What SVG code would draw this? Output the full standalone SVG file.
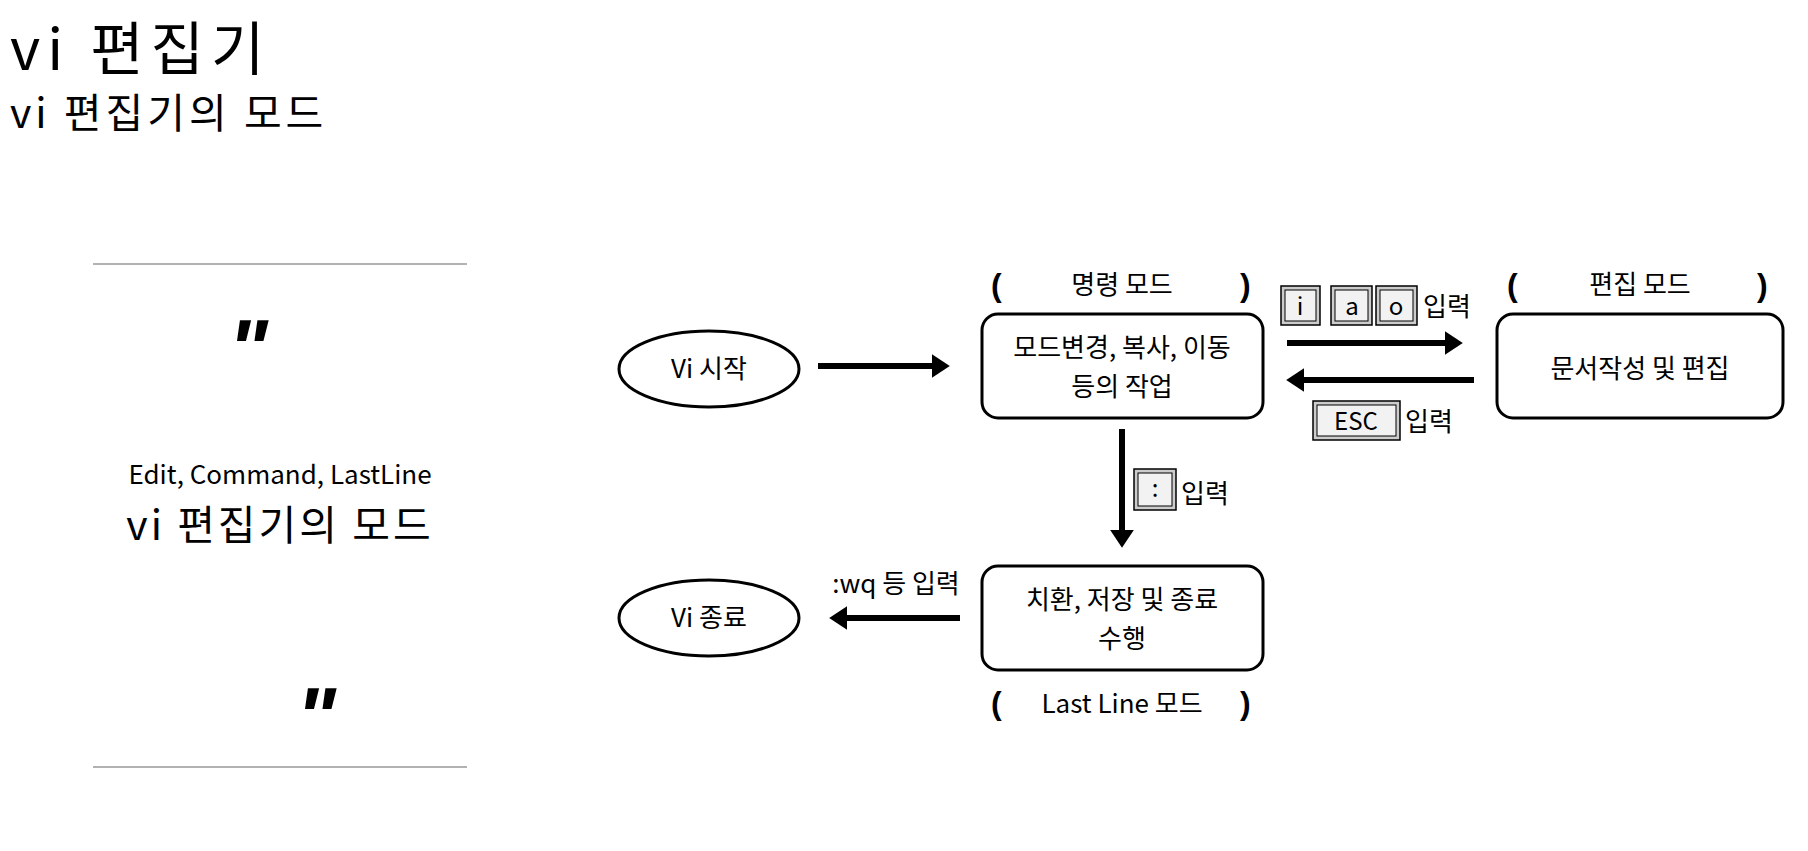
<svg xmlns="http://www.w3.org/2000/svg" width="1808" height="851" viewBox="0 0 1808 851">
<style>
text{font-family:"Noto Sans CJK KR","Noto Sans",sans-serif;fill:#000}
.t{font-size:26px;text-anchor:middle}
.box{fill:#fff;stroke:#000;stroke-width:3}
.br{font-size:32px;font-family:"Liberation Sans",sans-serif;font-weight:bold}
.key{fill:#ccc;stroke:#000;stroke-width:1.5}
.keyi{fill:#f2f2f2;stroke:#000;stroke-width:1}
.ln{stroke:#000;stroke-width:6;fill:none;marker-end:url(#ah)}
</style>
<defs>
<marker id="ah" markerWidth="4" markerHeight="4" refX="2.2" refY="2" orient="auto" markerUnits="strokeWidth"><path d="M0,0 L3,2 L0,4 z" fill="#000"/></marker>
</defs>
<rect width="1808" height="851" fill="#fff"/>
<g id="title">
<text x="10" y="70" style="font-size:58px;letter-spacing:7px">vi 편집기</text>
<text x="10" y="128" style="font-size:41px;letter-spacing:4px">vi 편집기의 모드</text>
</g>
<g id="quote">
<line x1="93" y1="264" x2="467" y2="264" stroke="#999" stroke-width="1.5"/>
<line x1="93" y1="767" x2="467" y2="767" stroke="#999" stroke-width="1.5"/>
<text x="248" y="378" style="font-size:84px;font-family:'Liberation Sans',sans-serif;font-weight:bold;font-style:italic;text-anchor:middle">"</text>
<text x="316" y="746" style="font-size:84px;font-family:'Liberation Sans',sans-serif;font-weight:bold;font-style:italic;text-anchor:middle">"</text>
<text x="280" y="484" class="t" style="font-size:26px">Edit, Command, LastLine</text>
<text x="280" y="540" class="t" style="font-size:41px;letter-spacing:3px">vi 편집기의 모드</text>
</g>
<g id="start"><ellipse cx="709" cy="369" rx="90" ry="38" class="box"/><text x="709" y="378" class="t">Vi 시작</text></g>
<g id="end"><ellipse cx="709" cy="618" rx="90" ry="38" class="box"/><text x="709" y="627" class="t">Vi 종료</text></g>
<g id="cmd">
<rect x="982" y="314" width="281" height="104" rx="16" class="box"/>
<text x="1122" y="357" class="t">모드변경, 복사, 이동</text>
<text x="1122" y="396" class="t">등의 작업</text>
<text x="991" y="296" class="br">(</text><text x="1240" y="296" class="br">)</text>
<text x="1122" y="294" class="t">명령 모드</text>
</g>
<g id="edit">
<rect x="1497" y="314" width="286" height="104" rx="16" class="box"/>
<text x="1640" y="378" class="t">문서작성 및 편집</text>
<text x="1507" y="296" class="br">(</text><text x="1757" y="296" class="br">)</text>
<text x="1640" y="294" class="t">편집 모드</text>
</g>
<g id="last">
<rect x="982" y="566" width="281" height="104" rx="16" class="box"/>
<text x="1122" y="609" class="t">치환, 저장 및 종료</text>
<text x="1122" y="648" class="t">수행</text>
<text x="991" y="714" class="br">(</text><text x="1240" y="714" class="br">)</text>
<text x="1122" y="713" class="t">Last Line 모드</text>
</g>
<g id="connectors">
<line x1="818" y1="366" x2="945" y2="366" class="ln"/>
<line x1="1287" y1="343" x2="1458" y2="343" class="ln"/>
<line x1="1474" y1="380" x2="1291" y2="380" class="ln"/>
<line x1="1122" y1="429" x2="1122" y2="543" class="ln"/>
<line x1="960" y1="618" x2="834" y2="618" class="ln"/>
</g>
<g id="labels">
<rect x="1281" y="286" width="39" height="39" class="key"/><rect x="1285" y="290" width="31" height="31" class="keyi"/><text x="1300" y="315" class="t" style="font-size:24px">i</text>
<rect x="1331" y="286" width="41" height="39" class="key"/><rect x="1335" y="290" width="33" height="31" class="keyi"/><text x="1352" y="315" class="t" style="font-size:24px">a</text>
<rect x="1376" y="286" width="41" height="39" class="key"/><rect x="1380" y="290" width="33" height="31" class="keyi"/><text x="1396" y="315" class="t" style="font-size:24px">o</text>
<text x="1423" y="316" style="font-size:26px">입력</text>
<rect x="1313" y="401" width="87" height="39" class="key"/><rect x="1317" y="405" width="79" height="31" class="keyi"/><text x="1356" y="430" class="t" style="font-size:24px">ESC</text>
<text x="1405" y="431" style="font-size:26px">입력</text>
<rect x="1134" y="469" width="42" height="41" class="key"/><rect x="1138" y="473" width="34" height="33" class="keyi"/><text x="1155" y="497" class="t" style="font-size:24px">:</text>
<text x="1181" y="503" style="font-size:26px">입력</text>
<text x="896" y="593" class="t">:wq 등 입력</text>
</g>
</svg>
